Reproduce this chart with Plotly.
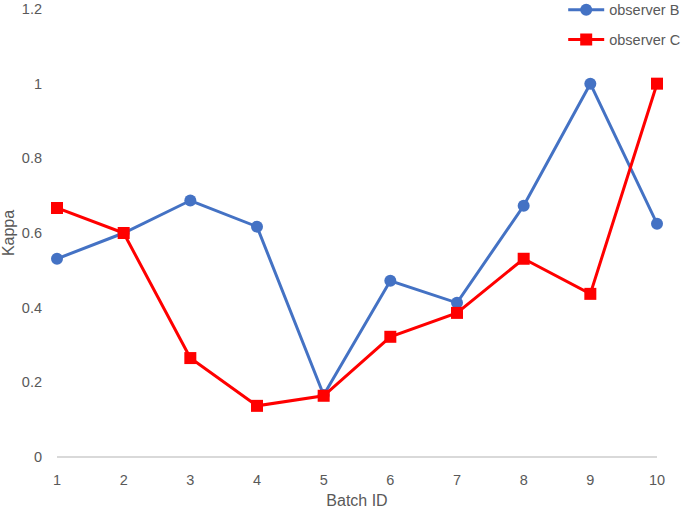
import plotly.graph_objects as go

batch_ids = [1, 2, 3, 4, 5, 6, 7, 8, 9, 10]
observer_b = [0.531, 0.600, 0.687, 0.617, 0.166, 0.472, 0.413, 0.673, 1.000, 0.625]
observer_c = [0.667, 0.600, 0.265, 0.137, 0.164, 0.322, 0.386, 0.531, 0.437, 1.000]
y_ticks = [0, 0.2, 0.4, 0.6, 0.8, 1, 1.2]
y_tick_labels = ["0", "0.2", "0.4", "0.6", "0.8", "1", "1.2"]

font_family = "Liberation Sans, Arial, sans-serif"
text_color = "#595959"

fig = go.Figure()
fig.add_trace(go.Scatter(
    x=batch_ids, y=observer_b, name="observer B", mode="lines+markers",
    legendgroup="b",
    line=dict(color="#4472C4", width=3),
    marker=dict(symbol="circle", size=12, color="#4472C4"),
))
fig.add_trace(go.Scatter(
    x=batch_ids, y=observer_c, name="observer C", mode="lines+markers",
    legendgroup="c",
    line=dict(color="#FF0000", width=3),
    marker=dict(symbol="square", size=12, color="#FF0000"),
))

fig.update_layout(
    width=685, height=509,
    margin=dict(l=57, r=28, t=9, b=52, autoexpand=False),
    paper_bgcolor="white", plot_bgcolor="white",
    font=dict(family=font_family, size=14, color=text_color),
    legend=dict(
        x=1.047, y=1.034, xanchor="right", yanchor="top",
        bgcolor="rgba(0,0,0,0)", font=dict(size=14.5, color=text_color),
        tracegroupgap=8, itemwidth=36,
    ),
    xaxis=dict(
        range=[1, 10], tickmode="array", tickvals=batch_ids,
        ticktext=[str(b) for b in batch_ids],
        showgrid=False, zeroline=False, showline=False,
        ticks="", tickfont=dict(size=14.5), ticklabelstandoff=12,
        title=dict(text="Batch ID", standoff=9, font=dict(size=16)),
    ),
    yaxis=dict(
        range=[0, 1.2], tickmode="array", tickvals=y_ticks, ticktext=y_tick_labels,
        showgrid=False, zeroline=True, zerolinecolor="#D9D9D9", zerolinewidth=1.5,
        showline=False, ticks="", ticklabelstandoff=14, tickfont=dict(size=14.5),
        title=dict(text="Kappa", standoff=4, font=dict(size=16)),
    ),
)
fig.update_traces(cliponaxis=False)

fig.write_html("out.html", config={"displayModeBar": False},
               post_script="document.body.style.margin='0';")
